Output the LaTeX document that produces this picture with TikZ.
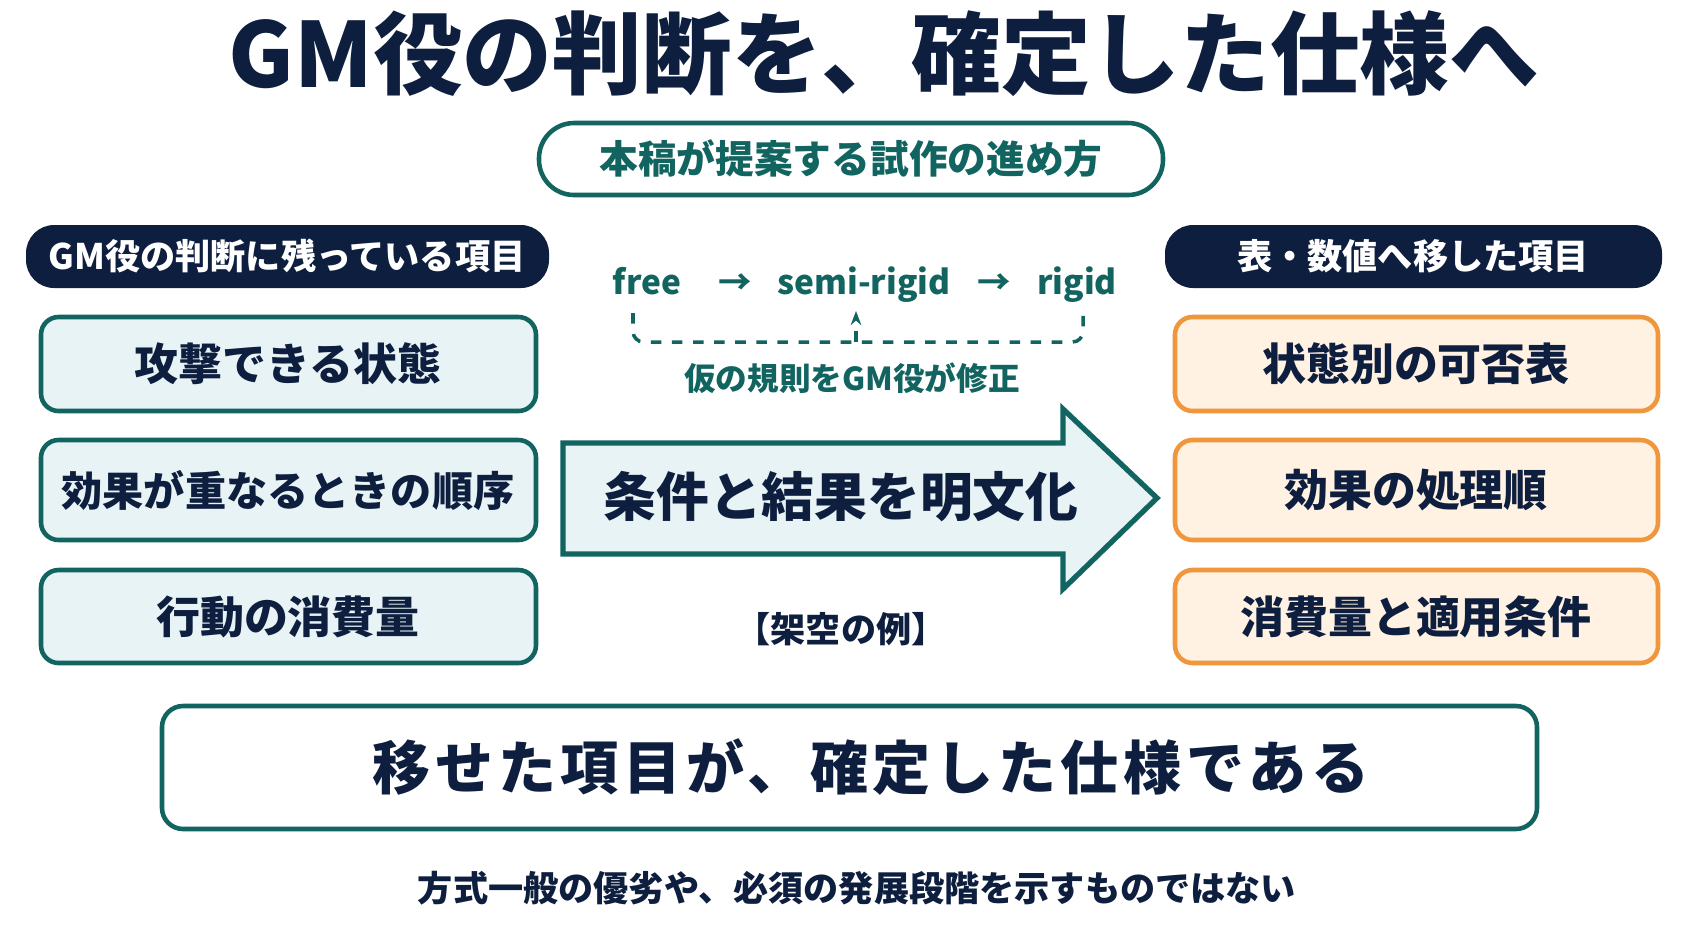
\documentclass[tikz,border=0pt]{standalone}
\usepackage{fontspec}
\setmainfont{Noto Sans CJK JP}
\usetikzlibrary{positioning, arrows.meta}
\definecolor{navy}{RGB}{14,30,62}
\definecolor{teal-dark}{RGB}{18,100,96}
\definecolor{pale-blue}{RGB}{232,243,245}
\definecolor{pale-orange}{RGB}{255,242,226}
\definecolor{orange-line}{RGB}{240,150,60}
\tikzset{
  head/.style={text=white, font=\bfseries\fontsize{10}{12}\selectfont},
  leftbox/.style={draw=teal-dark, line width=1.3pt, fill=pale-blue, rounded corners=5pt},
  rightbox/.style={draw=orange-line, line width=1.3pt, fill=pale-orange, rounded corners=5pt},
  item/.style={text=navy, font=\bfseries\fontsize{12.5}{14}\selectfont},
  flow/.style={text=teal-dark, anchor=base, font=\bfseries\fontsize{9.5}{12}\selectfont},
}
\begin{document}
\begin{tikzpicture}[x=0.01cm, y=-0.01cm]
\useasboundingbox (0,0) rectangle (1693,929);
\fill[white] (0,0) rectangle (1693,929);
% title
\node[text=navy, font=\bfseries\fontsize{25.5}{28}\selectfont] (title) at (884,54) {GM役の判断を、確定した仕様へ};
\draw[teal-dark, line width=1.3pt, fill=white, rounded corners=10pt] (539,123) rectangle (1163,195);
\node[text=teal-dark, font=\bfseries\fontsize{11}{13}\selectfont] (sub) at (851,159) {本稿が提案する試作の進め方};
% headers
\fill[navy, rounded corners=8pt] (26,225) rectangle (549,288);
\node[head] (lh) at (287,256) {GM役の判断に残っている項目};
\fill[navy, rounded corners=8pt] (1165,225) rectangle (1662,288);
\node[head] (rh) at (1413,256) {表・数値へ移した項目};
% left boxes
\draw[leftbox] (41,317) rectangle (536,411);
\node[item] (l1) at (288,364) {攻撃できる状態};
\draw[leftbox] (41,440) rectangle (536,540);
\node[item, font=\bfseries\fontsize{11.7}{14}\selectfont] (l2) at (288,490) {効果が重なるときの順序};
\draw[leftbox] (41,570) rectangle (536,663);
\node[item] (l3) at (288,617) {行動の消費量};
% right boxes
\draw[rightbox] (1175,317) rectangle (1658,411);
\node[item] (r1) at (1416,364) {状態別の可否表};
\draw[rightbox] (1175,440) rectangle (1658,540);
\node[item] (r2) at (1416,490) {効果の処理順};
\draw[rightbox] (1175,570) rectangle (1658,663);
\node[item] (r3) at (1416,617) {消費量と適用条件};
% flow
\node[flow] (free) at (647,294) {free};
\node[flow] (semi) at (864,294) {semi-rigid};
\node[flow] (rigid) at (1077,294) {rigid};
\node[flow] at (735,294) {→};
\node[flow] at (994,294) {→};
\draw[teal-dark, line width=1pt, dashed, rounded corners=3pt] (633,313) -- (633,342) -- (1083,342) -- (1083,313);
\draw[teal-dark, line width=1pt, dashed, -{Stealth[length=4pt]}] (856,342) -- (856,311);
\node[text=teal-dark, font=\bfseries\fontsize{9}{11}\selectfont] (fix) at (852,378) {仮の規則をGM役が修正};
% big arrow
\draw[teal-dark, line width=1.5pt, fill=pale-blue, line join=miter] (563,443) -- (1063,443) -- (1063,409) -- (1157,498) -- (1063,589) -- (1063,554) -- (563,554) -- cycle;
\node[text=navy, font=\bfseries\fontsize{15}{18}\selectfont] (mid) at (841,497) {条件と結果を明文化};
\node[text=navy, font=\bfseries\fontsize{10}{12}\selectfont] (ex) at (841,629) {【架空の例】};
% bottom
\draw[teal-dark, line width=1.3pt, fill=white, rounded corners=6pt] (162,706) rectangle (1537,829);
\node[text=navy, font=\bfseries\fontsize{16.5}{20}\selectfont\addfontfeature{LetterSpace=8}] (concl) at (871,767) {移せた項目が、確定した仕様である};
\node[text=navy, font=\bfseries\fontsize{10}{12}\selectfont] (note) at (857,888) {方式一般の優劣や、必須の発展段階を示すものではない};
\end{tikzpicture}
\end{document}
